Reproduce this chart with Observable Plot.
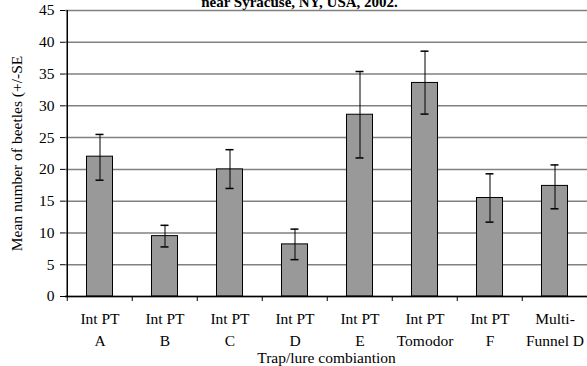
<!DOCTYPE html>
<html>
<head>
<meta charset="utf-8">
<script src="https://cdn.jsdelivr.net/npm/d3@7"></script>
<script src="https://cdn.jsdelivr.net/npm/@observablehq/plot@0.6"></script>
<style>
  html, body { margin: 0; padding: 0; background: white; }
  #chart { width: 587px; height: 366px; overflow: hidden; }
  #chart svg, #chart svg text { font-family: "Liberation Serif", "Times New Roman", serif !important; }
</style>
</head>
<body>
<div id="chart"></div>
<script>
const categories = ["Int PT\nA", "Int PT\nB", "Int PT\nC", "Int PT\nD", "Int PT\nE", "Int PT\nTomodor", "Int PT\nF", "Multi-\nFunnel D"];
const means = [22.0, 9.5, 20.0, 8.2, 28.6, 33.6, 15.5, 17.4];
const errLow = [18.3, 7.8, 17.0, 5.8, 21.8, 28.7, 11.7, 13.8];
const errHigh = [25.5, 11.2, 23.1, 10.6, 35.4, 38.6, 19.3, 20.7];
const yTicks = [0, 5, 10, 15, 20, 25, 30, 35, 40, 45];
const titleText = "near Syracuse, NY, USA, 2002.";
const xTitle = "Trap/lure combiantion";
const yTitle = "Mean number of beetles (+/-SE";

const data = categories.map((c, i) => ({cat: c, mean: means[i], lo: errLow[i], hi: errHigh[i]}));
const font = "Liberation Serif, Times New Roman, serif";

const chart = Plot.plot({
  width: 587,
  height: 366,
  marginTop: 10,
  marginBottom: 70,
  marginLeft: 65,
  marginRight: 0,
  style: {fontFamily: font, fontSize: "15.5px", color: "black", background: "white", overflow: "hidden"},
  x: {domain: categories, range: [65, 589], padding: 0, align: 0.5},
  y: {domain: [0, 45], range: [296, 10]},
  marks: [
    Plot.gridY(yTicks, {stroke: "#808080", strokeOpacity: 1, strokeWidth: 1.5}),
    Plot.barY(data, {x: "cat", y: "mean", fill: "#999999", stroke: "black", strokeWidth: 1, insetLeft: 19.5, insetRight: 19.5}),
    Plot.ruleX(data, {x: "cat", y1: "lo", y2: "hi", stroke: "black", strokeWidth: 1}),
    Plot.tickY(data, {x: "cat", y: "lo", stroke: "black", strokeWidth: 1.5, insetLeft: 28.5, insetRight: 28.5}),
    Plot.tickY(data, {x: "cat", y: "hi", stroke: "black", strokeWidth: 1.5, insetLeft: 28.5, insetRight: 28.5}),
    Plot.axisY(yTicks, {tickSize: 5, tickPadding: 6, fontSize: 15.5, label: null, stroke: "black"}),
    Plot.axisY({ticks: [], tickSize: 0, label: yTitle, labelAnchor: "center", labelArrow: "none", labelOffset: 55, fontSize: 15.5}),
    Plot.ruleX([0], {x: () => categories[0], dx: -32.75, y1: 0, y2: 45, stroke: "black", strokeWidth: 1.5}),
    Plot.ruleY([0], {stroke: "black", strokeWidth: 1.5}),
    Plot.axisX({tickSize: 5, tickFormat: null, dx: -32.75, label: null, stroke: "black"}),
    Plot.axisX({tickSize: 0, tickPadding: 12, tickFormat: d => d, lineHeight: 1.4, fontSize: 15.5, label: xTitle, labelAnchor: "center", labelArrow: "none", labelOffset: 66}),
    Plot.text([titleText], {frameAnchor: "top", dx: -27, dy: -4, lineAnchor: "bottom", fontWeight: "bold", fontSize: 15})
  ]
});
document.getElementById("chart").appendChild(chart);
</script>
</body>
</html>
